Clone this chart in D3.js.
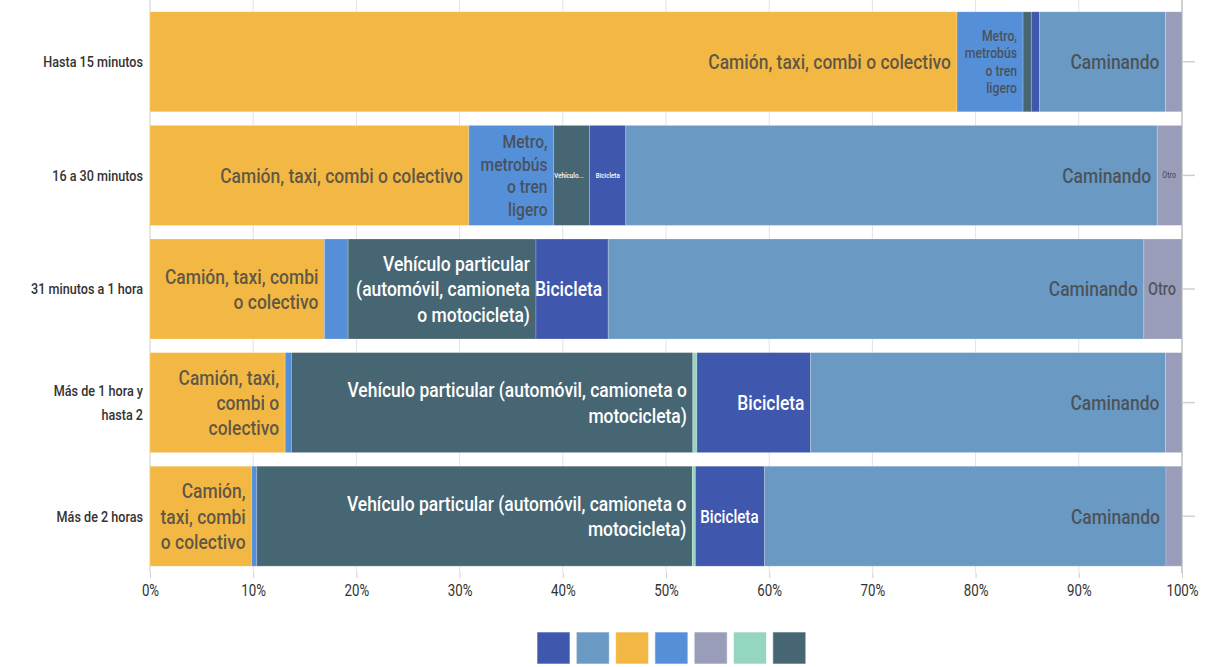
<!DOCTYPE html>
<html><head><meta charset="utf-8">
<script src="https://cdn.jsdelivr.net/npm/d3@7/dist/d3.min.js"></script>
<style>
html,body{margin:0;padding:0;background:#fff;}
svg{display:block;}
</style></head>
<body><svg id="chart" width="1214" height="667"></svg>
<script>
// ---- DATA ----
const categories = ["Hasta 15 minutos","16 a 30 minutos","31 minutos a 1 hora","Más de 1 hora y hasta 2","Más de 2 horas"];
const seriesNames = ["Camión, taxi, combi o colectivo","Metro, metrobús o tren ligero","Vehículo particular (automóvil, camioneta o motocicleta)","Transporte escolar","Bicicleta","Caminando","Otro"];
const valuesCamion    = [78.2, 30.9, 16.9, 13.1, 9.85];
const valuesMetro     = [6.4, 8.2, 2.3, 0.6, 0.5];
const valuesVehiculo  = [0.8, 3.5, 18.2, 38.9, 42.2];
const valuesEscolar   = [0, 0, 0, 0.4, 0.3];
const valuesBicicleta = [0.8, 3.5, 7.0, 11.0, 6.7];
const valuesCaminando = [12.2, 51.5, 51.9, 34.4, 38.9];
const valuesOtro      = [1.6, 2.4, 3.7, 1.6, 1.55];
const tickValues = [0,10,20,30,40,50,60,70,80,90,100];
const legendOrder = ["Bicicleta","Caminando","Camión, taxi, combi o colectivo","Metro, metrobús o tren ligero","Otro","Transporte escolar","Vehículo particular (automóvil, camioneta o motocicleta)"];

// in-bar label text (lines), per series per category; null = no label
const labelsCamion = [["Camión, taxi, combi o colectivo"],["Camión, taxi, combi o colectivo"],["Camión, taxi, combi","o colectivo"],["Camión, taxi,","combi o","colectivo"],["Camión,","taxi, combi","o colectivo"]];
const labelsMetro = [["Metro,","metrobús","o tren","ligero"],["Metro,","metrobús","o tren","ligero"],null,null,null];
const labelsVehiculo = [null,["Vehículo..."],["Vehículo particular","(automóvil, camioneta","o motocicleta)"],["Vehículo particular (automóvil, camioneta o","motocicleta)"],["Vehículo particular (automóvil, camioneta o","motocicleta)"]];
const labelsEscolar = [null,null,null,null,null];
const labelsBicicleta = [null,["Bicicleta"],["Bicicleta"],["Bicicleta"],["Bicicleta"]];
const labelsCaminando = [["Caminando"],["Caminando"],["Caminando"],["Caminando"],["Caminando"]];
const labelsOtro = [null,["Otro"],["Otro"],null,null];

// ---- STYLE ----
const colors = {
  "Camión, taxi, combi o colectivo":"#f3b843",
  "Metro, metrobús o tren ligero":"#548fd8",
  "Vehículo particular (automóvil, camioneta o motocicleta)":"#476673",
  "Transporte escolar":"#94d6c0",
  "Bicicleta":"#3f57ad",
  "Caminando":"#6a9ac4",
  "Otro":"#9a9dba"
};
const darkSeries = new Set(["Vehículo particular (automóvil, camioneta o motocicleta)","Bicicleta"]);
const BASE = 21;
const labelFontSize = {"0-1":14.7,"1-1":18.8,"1-2":7.5,"1-4":7.5,"1-6":8.5,"2-6":17.5,"4-4":18.2};
const FONT = "Roboto,'Noto Sans',sans-serif";

const seriesValues = [valuesCamion,valuesMetro,valuesVehiculo,valuesEscolar,valuesBicicleta,valuesCaminando,valuesOtro];
const seriesLabels = [labelsCamion,labelsMetro,labelsVehiculo,labelsEscolar,labelsBicicleta,labelsCaminando,labelsOtro];

const rows = categories.map((c,i)=>{ const r={category:c}; seriesNames.forEach((s,j)=>r[s]=seriesValues[j][i]); return r; });
const stacked = d3.stack().keys(seriesNames)(rows);

const svg = d3.select("#chart");
const margin = {left:150, right:32, top:5, bottom:94};
const W = 1214, H = 667;
const x = d3.scaleLinear().domain([0,100]).range([margin.left, W-margin.right]);
const y = d3.scaleBand().domain(categories).range([margin.top, H-margin.bottom]).paddingInner(0.12).paddingOuter(0.06);

// measure helper
function measure(txt, size, weight){
  const t = svg.append("text").attr("font-family",FONT).attr("font-size",size).attr("font-weight",weight).style("visibility","hidden").text(txt);
  const w = t.node().getComputedTextLength(); t.remove(); return w;
}
// horizontal condense factor to mimic the reference's condensed typeface
const kx = 243 / measure("Camión, taxi, combi o colectivo", BASE, 500);
const catSize = 16 * 112 / (kx * measure("31 minutos a 1 hora", 16, 500));

// gridlines
svg.append("g").selectAll("line").data(tickValues).join("line")
  .attr("x1",d=>x(d)).attr("x2",d=>x(d))
  .attr("y1",0).attr("y2",H-margin.bottom)
  .attr("stroke",d=>(d===0||d===100)?"#cfcfcf":"#e3e3e3")
  .attr("stroke-width",d=>d===100?2:1);

// right-side category ticks
svg.append("g").selectAll("line").data(categories).join("line")
  .attr("x1",x(100)+1).attr("x2",x(100)+13)
  .attr("y1",d=>y(d)+y.bandwidth()/2).attr("y2",d=>y(d)+y.bandwidth()/2)
  .attr("stroke","#cfcfcf").attr("stroke-width",1.5);

// bars
const gBars = svg.append("g");
stacked.forEach((layer,j)=>{
  gBars.append("g").attr("fill",colors[layer.key])
    .selectAll("rect").data(layer).join("rect")
    .attr("x",d=>x(d[0])).attr("width",d=>Math.max(0,x(d[1])-x(d[0])))
    .attr("y",d=>y(d.data.category)).attr("height",y.bandwidth())
    .attr("stroke","rgba(255,255,255,0.25)").attr("stroke-width",d=>(d[1]-d[0])>0?0.8:0);
});

// in-bar labels
const gLab = svg.append("g").attr("font-family",FONT);
stacked.forEach((layer,j)=>{
  layer.forEach((d,i)=>{
    const lines = seriesLabels[j][i];
    if(!lines) return;
    const fs = labelFontSize[i+"-"+j] || BASE;
    const lh = fs*1.2;
    const cy = y(d.data.category)+y.bandwidth()/2;
    const dark = darkSeries.has(layer.key);
    const t = gLab.append("text")
      .attr("transform",`translate(${x(d[1])-6},${cy}) scale(${kx},1)`)
      .attr("text-anchor","end")
      .attr("font-size",fs)
      .attr("font-weight",500)
      .attr("fill",dark?"#ffffff":"rgba(70,70,70,0.85)");
    lines.forEach((ln,k)=>{
      t.append("tspan").attr("x",0)
       .attr("y",(k-(lines.length-1)/2)*lh)
       .attr("dy","0.35em").text(ln);
    });
  });
});

// category labels (left)
const gCat = svg.append("g").attr("font-family",FONT).attr("font-size",catSize).attr("font-weight",500).attr("fill","#333");
categories.forEach(c=>{
  const words = c.split(" "); const lines=[]; let cur="";
  words.forEach(w=>{ const test=cur?cur+" "+w:w;
    if(kx*measure(test,catSize,500)>122 && cur){lines.push(cur);cur=w;} else cur=test; });
  lines.push(cur);
  const cy = y(c)+y.bandwidth()/2;
  const t = gCat.append("text").attr("text-anchor","end")
    .attr("transform",`translate(${x(0)-7},${cy}) scale(${kx},1)`);
  lines.forEach((ln,k)=>t.append("tspan").attr("x",0).attr("y",(k-(lines.length-1)/2)*23.5).attr("dy","0.35em").text(ln));
});

// x axis
const ax = svg.append("g").attr("transform",`translate(0,${H-margin.bottom})`)
  .call(d3.axisBottom(x).tickValues(tickValues).tickFormat(d=>d+"%").tickSize(5).tickPadding(7));
ax.select(".domain").remove();
ax.selectAll(".tick line").attr("stroke","#cfcfcf");
ax.selectAll(".tick text").attr("font-family",FONT).attr("font-size",16).attr("fill","#333")
  .attr("transform",`scale(${kx},1)`).attr("x",0);

// legend swatches
const lg = svg.append("g").attr("transform","translate(537,632)");
lg.selectAll("rect").data(legendOrder).join("rect")
  .attr("x",(d,i)=>i*39.3).attr("y",0).attr("width",33).attr("height",32)
  .attr("fill",d=>colors[d]).attr("stroke","rgba(255,255,255,0.6)").attr("stroke-width",1);
</script>
</body></html>
